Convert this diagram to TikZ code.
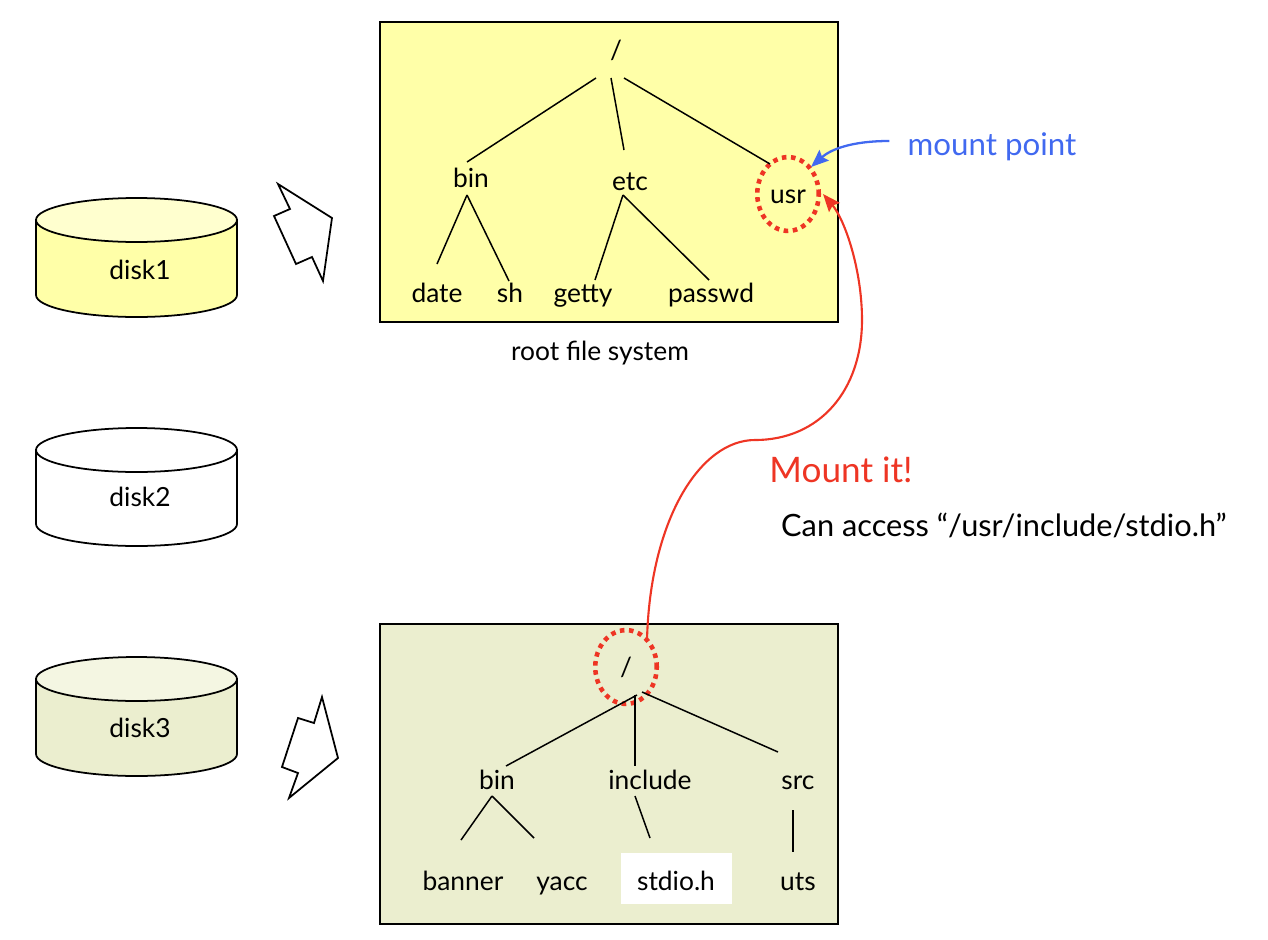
\documentclass[tikz,border=0pt]{standalone}
\usepackage{fontspec}
\setmainfont{Lato}
\usepackage{xcolor}
\usetikzlibrary{arrows.meta,shapes.geometric}

\definecolor{rootyellow}{HTML}{FFFFA8}
\definecolor{rootlight}{HTML}{FFFFCF}
\definecolor{usrgreen}{HTML}{EBEECF}
\definecolor{usrlight}{HTML}{F4F6E2}
\definecolor{mountred}{HTML}{EE3524}
\definecolor{mountblue}{HTML}{4169F0}

\tikzset{
  label/.style={font=\fontsize{15}{18}\selectfont, inner sep=0pt, text height=14pt, text depth=3pt},
  branch/.style={black, line width=0.85pt},
  outline/.style={black, line width=1pt},
  ring/.style={ellipse, draw=mountred, line width=2.6pt, dash pattern=on 2.6pt off 2.6pt,
    minimum width=35pt, minimum height=42pt, inner sep=0pt,
    font=\fontsize{15}{18}\selectfont, text=black, text height=14pt, text depth=3pt},
  hollowarrow/.style={black, line width=1pt, fill=white, line join=miter}
}

\begin{document}
\begin{tikzpicture}[x=0.02cm, y=-0.02cm]
  \useasboundingbox (0,0) rectangle (1268,940);

  % disks
  \draw[outline, fill=rootyellow] (36,220) -- (36,295) arc[start angle=180, end angle=360, x radius=100.5, y radius=-22] -- (237,220) -- cycle;
  \draw[outline, fill=rootlight] (136.5,220) ellipse[x radius=100.5, y radius=22];
  \node[label] (disk1) at (140,270) {disk1};
  \draw[outline, fill=white] (36,450) -- (36,524) arc[start angle=180, end angle=360, x radius=100.5, y radius=-22] -- (237,450) -- cycle;
  \draw[outline, fill=white] (136.5,450) ellipse[x radius=100.5, y radius=22];
  \node[label] (disk2) at (140,497) {disk2};
  \draw[outline, fill=usrgreen] (36,679) -- (36,754) arc[start angle=180, end angle=360, x radius=100.5, y radius=-22] -- (237,679) -- cycle;
  \draw[outline, fill=usrlight] (136.5,679) ellipse[x radius=100.5, y radius=22];
  \node[label] (disk3) at (140,728) {disk3};

  % hollow arrows
  \draw[hollowarrow] (278,184) -- (332,218) -- (323,281) -- (312,257) -- (296,264) -- (274,216) -- (290,209) -- cycle;
  \draw[hollowarrow] (322,697) -- (338,758) -- (289,798) -- (298,773) -- (282,767) -- (298,718) -- (314,723) -- cycle;

  % root file system
  \draw[outline, fill=rootyellow] (380,22) rectangle (838,322);
  \node[label] (rootA) at (616,50) {/};
  \node[label] (binA) at (471,178) {bin};
  \node[label] (etcA) at (630,181) {etc};
  \node[ring] (usrA) at (788,194) {usr};
  \node[label] (dateA) at (437,293) {date};
  \node[label] (shA) at (510,293) {sh};
  \node[label] (gettyA) at (583,293) {getty};
  \node[label] (passwdA) at (711,293) {passwd};
  \node[label] (caption) at (600,351) {root file system};
  \draw[branch] ([shift={(-20,28)}]rootA.center) -- ([shift={(-4,-16)}]binA.center);
  \draw[branch] ([shift={(-5,28)}]rootA.center) -- ([shift={(-6,-31)}]etcA.center);
  \draw[branch] ([shift={(8,28)}]rootA.center) -- ([shift={(-18,-30)}]usrA.center);
  \draw[branch] ([shift={(-4,17)}]binA.center) -- ([shift={(0,-29)}]dateA.center);
  \draw[branch] ([shift={(-4,17)}]binA.center) -- ([shift={(-1,-12)}]shA.center);
  \draw[branch] ([shift={(-7,14)}]etcA.center) -- ([shift={(12,-13)}]gettyA.center);
  \draw[branch] ([shift={(-7,14)}]etcA.center) -- ([shift={(-2,-13)}]passwdA.center);

  % mounted file system
  \draw[outline, fill=usrgreen] (380,624) rectangle (838,924);
  \node[fill=white, inner sep=0pt, minimum width=2.22cm, minimum height=1.02cm] (stdioB) at (676.5,878.5) {};
  \node[ring] (rootB) at (626,667) {/};
  \node[label] (binB) at (497,780) {bin};
  \node[label] (includeB) at (650,780) {include};
  \node[label] (srcB) at (798,780) {src};
  \node[label] (bannerB) at (463,881) {banner};
  \node[label] (yaccB) at (562,881) {yacc};
  \node[label] (stdioname) at (676,881) {stdio.h};
  \node[label] (utsB) at (798,881) {uts};
  \draw[branch] ([shift={(11,28)}]rootB.center) -- ([shift={(9,-14)}]binB.center);
  \draw[branch] ([shift={(9,28)}]rootB.center) -- ([shift={(-15,-14)}]includeB.center);
  \draw[branch] ([shift={(16,25)}]rootB.center) -- ([shift={(-20,-28)}]srcB.center);
  \draw[branch] ([shift={(-5,16)}]binB.center) -- ([shift={(-2,-41)}]bannerB.center);
  \draw[branch] ([shift={(-5,16)}]binB.center) -- ([shift={(-28,-43)}]yaccB.center);
  \draw[branch] ([shift={(-15,16)}]includeB.center) -- ([shift={(-26,-43)}]stdioname.center);
  \draw[branch] ([shift={(-5,30)}]srcB.center) -- ([shift={(-5,-29)}]utsB.center);

  % mounting
  \node[font=\fontsize{17.8}{21}\selectfont, text=mountblue, inner sep=0pt] (mountpoint) at (992,147) {mount point};
  \draw[mountblue, line width=1.3pt, -{Stealth[length=10pt, width=8pt, inset=1.5pt]}] ([shift={(-18,-6)}]mountpoint.west) .. controls (850,141) and (830,150) .. ([shift={(23,-27)}]usrA.center);
  \node[font=\fontsize{20}{24}\selectfont, text=mountred, inner sep=0pt] (mountit) at (841,470) {Mount it!};
  \node[font=\fontsize{17.5}{21}\selectfont, inner sep=0pt] (access) at (1004,525) {Can access “/usr/include/stdio.h”};
  \draw[mountred, line width=1.2pt, -{Stealth[length=10pt, width=8pt, inset=1.5pt]}] ([shift={(21,-27)}]rootB.center) .. controls (650,520) and (700,440) .. (755,440) .. controls (820,440) and (862,390) .. (862,320) .. controls (862,270) and (845,220) .. ([shift={(2,0)}]usrA.east);
\end{tikzpicture}
\end{document}
